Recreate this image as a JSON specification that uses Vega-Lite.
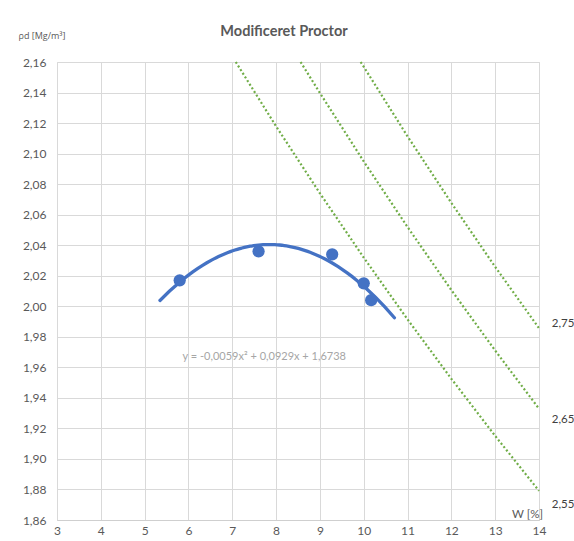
{
  "$schema": "https://vega.github.io/schema/vega-lite/v6.json",
  "width": 482,
  "height": 458,
  "autosize": {"type": "none"},
  "padding": {"left": 57, "top": 62, "right": 35, "bottom": 21},
  "background": "white",
  "title": {
    "text": "Modificeret Proctor",
    "font": "Lato",
    "fontSize": 14.5,
    "fontWeight": "bold",
    "color": "#595959",
    "offset": -8,
    "dx": -14
  },
  "datasets": {
    "pts": [
      {"w": 5.8, "rho": 2.017},
      {"w": 7.6, "rho": 2.036},
      {"w": 9.28, "rho": 2.034},
      {"w": 10.0, "rho": 2.015},
      {"w": 10.17, "rho": 2.004}
    ],
    "zav": [
      {"ps": "2,55", "w": 7.08, "rho": 2.16},
      {"ps": "2,55", "w": 8, "rho": 2.1179},
      {"ps": "2,55", "w": 9, "rho": 2.074},
      {"ps": "2,55", "w": 10, "rho": 2.0319},
      {"ps": "2,55", "w": 11, "rho": 1.9914},
      {"ps": "2,55", "w": 12, "rho": 1.9525},
      {"ps": "2,55", "w": 13, "rho": 1.9151},
      {"ps": "2,55", "w": 14, "rho": 1.8791},
      {"ps": "2,65", "w": 8.56, "rho": 2.16},
      {"ps": "2,65", "w": 9, "rho": 2.1397},
      {"ps": "2,65", "w": 10, "rho": 2.0949},
      {"ps": "2,65", "w": 11, "rho": 2.0519},
      {"ps": "2,65", "w": 12, "rho": 2.0106},
      {"ps": "2,65", "w": 13, "rho": 1.971},
      {"ps": "2,65", "w": 14, "rho": 1.9329},
      {"ps": "2,75", "w": 9.93, "rho": 2.16},
      {"ps": "2,75", "w": 10, "rho": 2.1569},
      {"ps": "2,75", "w": 11, "rho": 2.1113},
      {"ps": "2,75", "w": 12, "rho": 2.0677},
      {"ps": "2,75", "w": 13, "rho": 2.0258},
      {"ps": "2,75", "w": 14, "rho": 1.9856}
    ],
    "labels": [
      {"label": "2,75", "w": 14.55, "rho": 1.9885},
      {"label": "2,65", "w": 14.55, "rho": 1.9256},
      {"label": "2,55", "w": 14.55, "rho": 1.8698}
    ],
    "eq": [
      {"label": "y = -0,0059x² + 0,0929x + 1,6738", "w": 7.73, "rho": 1.967}
    ]
  },
  "encoding": {
    "x": {
      "field": "w",
      "type": "quantitative",
      "scale": {"domain": [3, 14], "nice": false, "zero": false},
      "axis": {
        "values": [3, 4, 5, 6, 7, 8, 9, 10, 11, 12, 13, 14],
        "title": "W [%]",
        "titleAngle": 0,
        "titleX": 470,
        "titleY": -1,
        "titleAlign": "center",
        "titleBaseline": "bottom",
        "titleFont": "Lato",
        "titleFontSize": 11.5,
        "titleFontWeight": "normal",
        "titleColor": "#595959",
        "labelFont": "Lato",
        "labelFontSize": 12,
        "labelColor": "#595959",
        "labelPadding": 5,
        "ticks": false,
        "domain": true,
        "domainColor": "#cfcfcf",
        "gridColor": "#d9d9d9",
        "labelFlush": false
      }
    },
    "y": {
      "field": "rho",
      "type": "quantitative",
      "scale": {"domain": [1.86, 2.16], "nice": false, "zero": false},
      "axis": {
        "values": [1.86, 1.88, 1.9, 1.92, 1.94, 1.96, 1.98, 2.0, 2.02, 2.04, 2.06, 2.08, 2.1, 2.12, 2.14, 2.16],
        "labelExpr": "replace(format(datum.value, '.2f'), '.', ',')",
        "title": "ρd [Mg/m³]",
        "titleAngle": 0,
        "titleX": -39,
        "titleY": -22,
        "titleAlign": "left",
        "titleBaseline": "bottom",
        "titleFont": "Open Sans",
        "titleFontSize": 9,
        "titleFontWeight": "normal",
        "titleColor": "#595959",
        "labelFont": "Lato",
        "labelFontSize": 12,
        "labelColor": "#595959",
        "labelPadding": 11,
        "ticks": false,
        "domain": false,
        "gridColor": "#d9d9d9",
        "labelFlush": false
      }
    }
  },
  "layer": [
    {
      "data": {"name": "zav"},
      "mark": {"type": "line", "color": "#70AD47", "strokeWidth": 2.2, "strokeDash": [2, 2.3], "strokeCap": "butt"},
      "encoding": {"detail": {"field": "ps"}}
    },
    {
      "data": {"name": "pts"},
      "transform": [
        {"regression": "rho", "on": "w", "method": "poly", "order": 2, "extent": [5.35, 10.7]}
      ],
      "mark": {"type": "line", "color": "#4472C4", "strokeWidth": 3.3, "strokeCap": "round"}
    },
    {
      "data": {"name": "pts"},
      "mark": {"type": "circle", "color": "#4472C4", "opacity": 1, "size": 150}
    },
    {
      "data": {"name": "labels"},
      "mark": {"type": "text", "font": "Lato", "fontSize": 11.5, "color": "#404040", "align": "center", "baseline": "middle"},
      "encoding": {"text": {"field": "label"}}
    },
    {
      "data": {"name": "eq"},
      "mark": {"type": "text", "font": "Lato", "fontSize": 11, "color": "#a6a6a6", "align": "center", "baseline": "middle"},
      "encoding": {"text": {"field": "label"}}
    }
  ]
}
